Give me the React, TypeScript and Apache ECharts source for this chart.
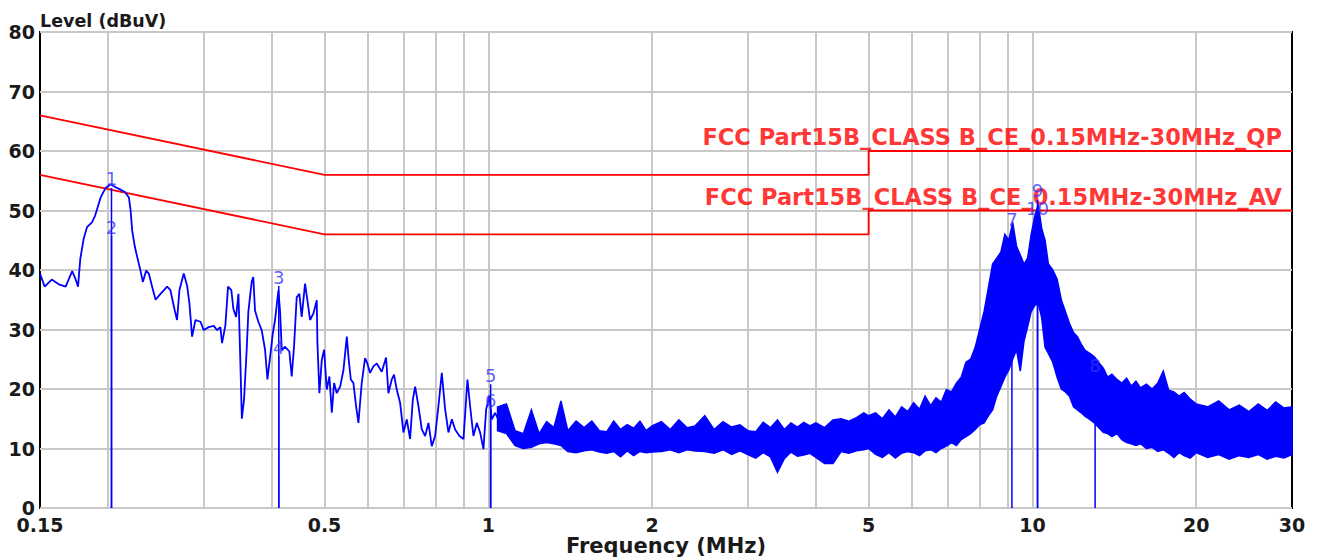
import { useEffect, useRef } from 'react';
import * as echarts from 'echarts';

// ---- axes ----
const xLabelValues = [0.15, 0.5, 1, 2, 5, 10, 20, 30];
const xGridValues = [0.2, 0.3, 0.4, 0.5, 0.6, 0.7, 0.8, 0.9, 1, 2, 3, 4, 5, 6, 7, 8, 9, 10, 20];

// ---- limit lines ----
const limitFreq = [0.15, 0.5, 5, 5, 30];
const qpLevel = [66, 56, 56, 60, 60];
const avLevel = [56, 46, 46, 50, 50];
const qpName = 'FCC Part15B_CLASS B_CE_0.15MHz-30MHz_QP';
const avName = 'FCC Part15B_CLASS B_CE_0.15MHz-30MHz_AV';

// ---- measured trace, 0.15 - 1.09 MHz ----
const lowFreq = [
  0.150, 0.153, 0.1576, 0.1624, 0.1672, 0.1719, 0.1743, 0.1762, 0.1779, 0.1805,
  0.1830, 0.1869, 0.1895, 0.1939, 0.1980, 0.2023, 0.2066, 0.2110, 0.2149, 0.2185,
  0.2201, 0.2216, 0.2241, 0.2263, 0.2295, 0.2318, 0.2351, 0.2377, 0.2411, 0.2446,
  0.2498, 0.2569, 0.2605, 0.2653, 0.2679, 0.2706, 0.2756, 0.2795, 0.2823, 0.2855,
  0.2896, 0.2958, 0.2999, 0.3063, 0.3129, 0.3173, 0.3218, 0.3241, 0.3287, 0.3324,
  0.3371, 0.3400, 0.3439, 0.3474, 0.3500, 0.3524, 0.3557, 0.3597, 0.3623, 0.3674,
  0.3699, 0.3726, 0.3779, 0.3833, 0.3888, 0.3927, 0.3972, 0.4017, 0.4056, 0.4114,
  0.4143, 0.4173, 0.4232, 0.4309, 0.4352, 0.4395, 0.4445, 0.4496, 0.4540, 0.4605,
  0.4651, 0.4704, 0.4771, 0.4839, 0.4852, 0.4893, 0.4943, 0.4992, 0.5048, 0.5105,
  0.5157, 0.5207, 0.5266, 0.5342, 0.5418, 0.5495, 0.5533, 0.5589, 0.5651, 0.5715,
  0.5772, 0.5853, 0.5936, 0.5994, 0.6063, 0.6149, 0.6237, 0.6371, 0.6488, 0.6552,
  0.6647, 0.6711, 0.6788, 0.6885, 0.6983, 0.7082, 0.7182, 0.7266, 0.7337, 0.7442,
  0.7547, 0.7655, 0.7763, 0.7872, 0.7985, 0.8097, 0.8214, 0.8330, 0.8448, 0.8570,
  0.8691, 0.8850, 0.9003, 0.9156, 0.9260, 0.9390, 0.9525, 0.9660, 0.9797, 0.9910,
  1.0049, 1.0149, 1.0292, 1.0512, 1.0737, 1.0890,
];
const lowLevel = [
  39.4, 37.2, 38.4, 37.6, 37.2, 39.8, 38.5, 37.2, 41.9, 45.3,
  47.2, 48.0, 49.2, 52.2, 53.8, 54.4, 53.9, 53.5, 53.1, 52.2,
  50.0, 46.6, 43.9, 42.2, 39.9, 38.0, 39.9, 39.4, 37.2, 35.0,
  36.0, 37.2, 36.6, 33.2, 31.6, 36.6, 39.4, 37.4, 34.4, 28.8,
  31.6, 31.3, 29.9, 30.4, 30.6, 29.9, 30.4, 27.7, 30.7, 37.2,
  36.6, 33.5, 32.1, 36.0, 25.4, 15.0, 18.2, 26.6, 33.0, 38.0,
  38.8, 33.2, 31.3, 29.9, 26.6, 21.6, 25.4, 29.3, 31.6, 36.6,
  33.0, 26.6, 27.1, 26.3, 22.1, 27.1, 35.4, 36.0, 32.1, 37.7,
  34.9, 31.6, 32.7, 34.9, 27.9, 19.3, 24.9, 26.6, 19.9, 22.1,
  16.0, 21.0, 19.3, 20.4, 23.2, 28.8, 25.4, 21.6, 21.0, 17.1,
  14.3, 21.0, 25.2, 24.3, 22.7, 23.8, 24.3, 22.9, 25.3, 19.3,
  21.6, 22.4, 19.9, 17.7, 12.7, 14.9, 11.6, 18.2, 20.4, 17.1,
  13.2, 12.1, 14.3, 10.4, 12.1, 17.1, 22.7, 16.6, 12.7, 14.9,
  13.2, 12.1, 11.6, 21.6, 17.1, 12.1, 14.3, 12.7, 9.9, 16.6,
  18.8, 14.9, 16.0, 14.3, 15.4, 13.2,
];

// ---- measured trace, 1.04 - 30 MHz (dense sweep: upper / lower envelope) ----
const bandFreq = [
  1.04, 1.08, 1.12, 1.16, 1.2, 1.24, 1.28, 1.32, 1.36, 1.4,
  1.45, 1.5, 1.55, 1.6, 1.65, 1.7, 1.75, 1.8, 1.85, 1.9,
  1.95, 2.0, 2.08, 2.16, 2.24, 2.32, 2.4, 2.5, 2.6, 2.7,
  2.8, 2.9, 3.0, 3.1, 3.2, 3.3, 3.4, 3.5, 3.6, 3.7,
  3.8, 3.9, 4.0, 4.15, 4.3, 4.45, 4.6, 4.75, 4.9, 5.0,
  5.15, 5.3, 5.45, 5.6, 5.75, 5.9, 6.05, 6.2, 6.35, 6.5,
  6.65, 6.8, 6.95, 7.1, 7.25, 7.4, 7.55, 7.7, 7.85, 8.0,
  8.15, 8.3, 8.45, 8.6, 8.75, 8.9, 9.05, 9.2, 9.35, 9.5,
  9.65, 9.8, 9.95, 10.1, 10.25, 10.4, 10.55, 10.7, 10.9, 11.1,
  11.3, 11.5, 11.7, 11.9, 12.1, 12.3, 12.5, 12.75, 13.0, 13.25,
  13.5, 13.75, 14.0, 14.3, 14.6, 14.9, 15.2, 15.5, 15.8, 16.2,
  16.6, 17.0, 17.4, 17.8, 18.2, 18.6, 19.0, 19.5, 20, 21,
  22, 23, 24, 25, 26, 27, 28, 29, 30,
];
const bandUpper = [
  17, 17.5, 13, 12.5, 16.5, 12.5, 14.5, 13.5, 18, 13,
  14.6, 13.5, 14.6, 13, 12.8, 14.6, 13.2, 14, 13.4, 14.6,
  13, 13.8, 14.5, 13.2, 14.8, 13.5, 13.8, 15.5, 13.2, 14.5,
  13.6, 14, 13, 12.8, 14.4, 13.5, 14.8, 13.2, 14.3, 13.6,
  14.4, 13.8, 14.3, 13.5, 14.8, 15, 14.6, 15.2, 16, 15.5,
  16, 15, 16.5, 15.3, 17, 16.2, 17.7, 16.6, 18.8, 17.2,
  18.5, 17.8, 19.9, 19.5, 21, 22, 24.5, 25, 27, 30,
  33, 37, 41, 42, 43, 46, 45, 48, 44, 42.5,
  41, 42, 46, 49, 51, 47, 45, 41, 40, 38.5,
  35, 33, 31, 29.5, 28.8, 27.5, 26.5, 26, 25.4, 24.4,
  23.5, 22, 22.5, 21.6, 21, 21.8, 20.5, 21.3, 20.2, 20.8,
  20, 21, 23, 19.8, 19.5, 18.8, 19.4, 18.3, 17.5, 17,
  18, 16.5, 17.3, 16.2, 17.5, 16.4, 17.8, 16.8, 17,
];
const bandLower = [
  13, 12.5, 10.5, 10, 10.2, 10.8, 11, 10.8, 10.5, 9.5,
  9.3, 9.6, 9.8, 9.4, 9.2, 9.5, 8.6, 9.6, 8.8, 9.5,
  9.3, 9.4, 9.5, 9.8, 9.3, 9.8, 9.6, 9.5, 9.2, 9.8,
  9.0, 9.6, 9, 8.4, 9.3, 8.6, 6, 8.3, 9.4, 8.7,
  8.9, 9.2, 8.5, 7.5, 7.5, 9.5, 9.2, 9.6, 9.8, 10,
  9, 8.5, 9.3, 8.4, 9.2, 9.5, 9.3, 8.8, 9.6, 9.8,
  9.3, 10, 10.4, 11, 10.5, 11.5, 12, 12.5, 13.2, 14,
  14.3, 15.5, 16.5, 18.8, 20.4, 22, 23.2, 25, 26.6, 23,
  28, 30.5, 33, 34, 34.5, 32, 27, 26, 24.5, 22,
  20, 19.5, 18.8, 17, 16.5, 16, 15.4, 14.9, 14.3, 13.5,
  12.7, 12.5, 12, 12.5, 11.5, 11, 10.8, 10.5, 10.8, 10,
  10.2, 9.5, 9.8, 9.2, 8.5, 9.3, 8.8, 8.4, 9.3, 8.5,
  9, 8.2, 8.8, 8.5, 9, 8.2, 8.7, 8.4, 9,
];

// ---- markers ----
const markerNo = ['1', '2', '3', '4', '5', '6', '7', '8', '9', '10'];
const markerFreq = [0.203, 0.203, 0.412, 0.412, 1.01, 1.01, 9.17, 13.04, 10.22, 10.22];
const markerLevel = [53.8, 45.7, 37.3, 25.5, 20.8, 16.5, 47.0, 22.4, 51.8, 48.9];

const BLUE = '#0000ff';
const RED = '#ff0000';
const FONT = 'DejaVu Sans';

export default function App() {
  const ref = useRef<HTMLDivElement>(null);

  useEffect(() => {
    if (!ref.current) return;
    const chart = echarts.init(ref.current, undefined, { renderer: 'svg' });

    const pairs = (fs: number[], vs: number[]) => fs.map((f, i) => [f, vs[i]]);

    const tickText = {
      fontFamily: FONT,
      fontWeight: 'bold' as const,
      fontSize: 19,
      color: '#1a1a1a',
    };

    const option: any = {
      animation: false,
      grid: {
        left: 40,
        right: 28,
        top: 32,
        bottom: 52,
        show: true,
        borderColor: '#000',
        borderWidth: 2,
        backgroundColor: 'transparent',
        containLabel: false,
        outerBoundsMode: 'none',
      },
      xAxis: {
        type: 'log',
        logBase: 10,
        min: 0.15,
        max: 30,
        name: 'Frequency (MHz)',
        nameLocation: 'middle',
        nameGap: 27,
        nameMoveOverlap: false,
        nameTextStyle: { ...tickText, fontSize: 21 },
        axisLine: { show: false },
        axisTick: { show: false, customValues: xGridValues },
        axisLabel: {
          ...tickText,
          margin: 7,
          customValues: xLabelValues,
          formatter: (v: number) => String(Math.round(v * 100) / 100),
        },
        splitLine: { show: true, lineStyle: { color: '#c8c8c8', width: 2 } },
        minorSplitLine: { show: false },
      },
      yAxis: {
        type: 'value',
        min: 0,
        max: 80,
        interval: 10,
        name: 'Level (dBuV)',
        nameLocation: 'end',
        nameGap: 2,
        nameMoveOverlap: false,
        nameTextStyle: { ...tickText, fontSize: 17.5, align: 'left' },
        axisLine: { show: false },
        axisTick: { show: false },
        axisLabel: { ...tickText, margin: 5 },
        splitLine: { show: true, lineStyle: { color: '#c8c8c8', width: 2 } },
      },
      series: [
        {
          name: 'QP limit',
          type: 'line',
          data: pairs(limitFreq, qpLevel),
          symbol: 'none',
          lineStyle: { color: RED, width: 1.8 },
          z: 2,
        },
        {
          name: 'AV limit',
          type: 'line',
          data: pairs(limitFreq, avLevel),
          symbol: 'none',
          lineStyle: { color: RED, width: 1.8 },
          z: 2,
        },
        {
          name: 'limit labels',
          type: 'scatter',
          symbolSize: 0,
          z: 3,
          data: [
            { value: [30, qpLevel[qpLevel.length - 1]], name: qpName },
            { value: [30, avLevel[avLevel.length - 1]], name: avName },
          ],
          label: {
            show: true,
            formatter: (p: any) => p.name,
            position: [-10, -14],
            align: 'right',
            verticalAlign: 'middle',
            fontFamily: FONT,
            fontWeight: 'bold',
            fontSize: 22.5,
            color: RED,
          },
        },
        {
          name: 'trace low',
          type: 'line',
          data: pairs(lowFreq, lowLevel),
          symbol: 'none',
          lineStyle: { color: BLUE, width: 1.8 },
          z: 4,
        },
        {
          name: 'trace band',
          type: 'custom',
          z: 4,
          data: bandFreq.map((f, i) => [f, bandLower[i], bandUpper[i]]),
          encode: { x: 0, y: [1, 2] },
          renderItem: (params: any, api: any) => {
            if (params.dataIndex !== 0) return { type: 'group', children: [] };
            const top = bandFreq.map((f, i) => api.coord([f, bandUpper[i]]));
            const bot = bandFreq.map((f, i) => api.coord([f, bandLower[i]])).reverse();
            return {
              type: 'polygon',
              shape: { points: top.concat(bot) },
              style: { fill: BLUE, stroke: BLUE, lineWidth: 1.5 },
            };
          },
        },
        {
          name: 'marker lines',
          type: 'custom',
          z: 5,
          data: pairs(markerFreq, markerLevel),
          renderItem: (_params: any, api: any) => {
            const f = api.value(0);
            const v = api.value(1);
            const top = api.coord([f, v]);
            const bot = api.coord([f, 0]);
            return {
              type: 'line',
              shape: { x1: top[0], y1: top[1], x2: bot[0], y2: bot[1] },
              style: { stroke: BLUE, lineWidth: 1.5 },
            };
          },
        },
        {
          name: 'marker labels',
          type: 'scatter',
          symbolSize: 0,
          z: 6,
          data: markerFreq.map((f, i) => ({ value: [f, markerLevel[i]], name: markerNo[i] })),
          label: {
            show: true,
            formatter: (p: any) => p.name,
            position: 'top',
            distance: 0,
            fontFamily: FONT,
            fontSize: 18,
            color: '#3535ff',
          },
        },
      ],
    };

    chart.setOption(option);
    return () => chart.dispose();
  }, []);

  return (
    <div
      ref={ref}
      style={{ position: 'fixed', left: 0, top: 0, width: 1320, height: 560, background: '#fff' }}
    />
  );
}
